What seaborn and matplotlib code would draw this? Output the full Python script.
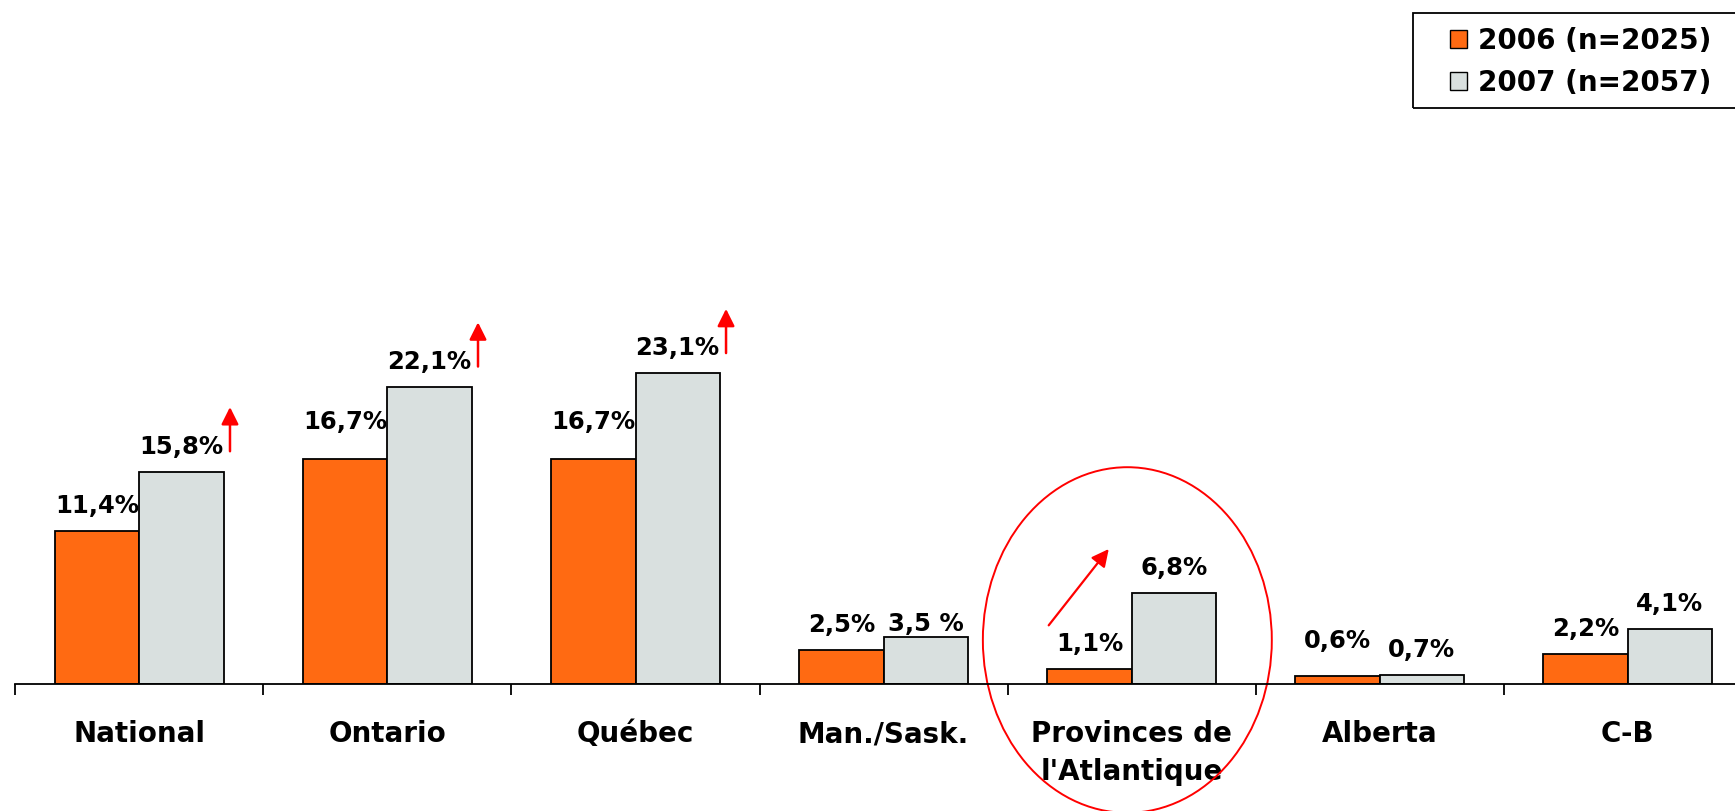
import seaborn as sns
import matplotlib.pyplot as plt
import matplotlib.patches as mpatches
from matplotlib.patches import Ellipse, Rectangle
import pandas as pd

# Values
regions = ["National", "Ontario", "Québec", "Man./Sask.", "Provinces de\nl'Atlantique", "Alberta", "C-B"]
years = ["2006 (n=2025)", "2007 (n=2057)"]
vals_2006 = [11.4, 16.7, 16.7, 2.5, 1.1, 0.6, 2.2]
vals_2007 = [15.8, 22.1, 23.1, 3.5, 6.8, 0.7, 4.1]
labels_2006 = ["11,4%", "16,7%", "16,7%", "2,5%", "1,1%", "0,6%", "2,2%"]
labels_2007 = ["15,8%", "22,1%", "23,1%", "3,5 %", "6,8%", "0,7%", "4,1%"]
# regions with a vertical "up" arrow next to the 2007 bar
up_arrows = ["National", "Ontario", "Québec"]

orange = "#FF6A12"
grey = "#D9E0DF"

df = pd.DataFrame({
    "region": regions * 2,
    "year": [years[0]] * len(regions) + [years[1]] * len(regions),
    "value": vals_2006 + vals_2007,
})

sns.set_style("white")
plt.rcParams["font.family"] = ["DejaVu Sans"]
plt.rcParams["font.weight"] = "bold"
plt.rcParams["text.color"] = "black"
plt.rcParams["xtick.color"] = "black"

fig = plt.figure(figsize=(17.35, 8.11), dpi=100)
ax = fig.add_axes([0.0089, 0.1566, 0.9911, 0.8434])

sns.barplot(data=df, x="region", y="value", hue="year", palette=[orange, grey],
            saturation=1, width=0.68, edgecolor="black", linewidth=1.3, ax=ax, legend=False)

# axes styling
for s in ["left", "top", "right"]:
    ax.spines[s].set_visible(False)
ax.spines["bottom"].set_color("black")
ax.spines["bottom"].set_linewidth(1.3)
ax.set_yticks([])
ax.set_xlabel("")
ax.set_ylabel("")
ax.set_xticks(range(len(regions)))
ax.set_xticklabels(regions, fontsize=20, fontweight="bold", color="black", linespacing=1.45)
ax.set_xticks([k - 0.5 for k in range(len(regions) + 1)], minor=True)
ax.tick_params(axis="x", which="major", length=0, pad=26)
ax.tick_params(axis="x", which="minor", length=8, width=1.3, direction="out", color="black", bottom=True)

# limits after the ticks (set_xticks widens the view)
ax.set_xlim(-0.5, 6.433)
ax.set_ylim(0, 50.86)

# value labels above bars (a few are nudged like in the original slide)
nudge = {(1, 0): 9, (2, 0): 9, (3, 1): -9, (5, 0): 7}
bar_w = 0.34
for j, (vals, labs) in enumerate([(vals_2006, labels_2006), (vals_2007, labels_2007)]):
    for i, (v, lab) in enumerate(zip(vals, labs)):
        x = i + (j - 0.5) * bar_w
        ax.annotate(lab, xy=(x, v), xytext=(0, 18 + nudge.get((i, j), 0)),
                    textcoords="offset points", ha="center", va="center",
                    fontsize=17.5, fontweight="bold", color="black", annotation_clip=False)

# red arrows
for r in up_arrows:
    i = regions.index(r)
    v = vals_2007[i]
    ax.annotate("", xy=(i + 0.365, v + 5.0), xytext=(i + 0.365, v + 1.3),
                arrowprops=dict(arrowstyle="-|>", color="red", lw=1.8, mutation_scale=26))
ia = regions.index("Provinces de\nl'Atlantique")
ax.annotate("", xy=(ia - 0.085, vals_2007[ia] + 3.4), xytext=(ia - 0.341, vals_2006[ia] + 3.1),
            arrowprops=dict(arrowstyle="-|>", color="red", lw=1.6, mutation_scale=26))
ax.add_patch(Ellipse((ia - 0.017, 3.27), 1.165, 25.7, fill=False, ec="red", lw=1.4, clip_on=False))

# legend: frameless entries plus a box that runs off the right edge, like the slide
handles = [mpatches.Patch(facecolor=orange, edgecolor="black", lw=1.0),
           mpatches.Patch(facecolor=grey, edgecolor="black", lw=1.0)]
leg = fig.legend(handles, years, loc="center left", bbox_to_anchor=(1450 / 1735, 1 - 62 / 811),
                 bbox_transform=fig.transFigure, borderaxespad=0, borderpad=0, frameon=False,
                 prop={"size": 20, "weight": "bold"},
                 handlelength=0.6, handleheight=0.6, handletextpad=0.4, labelspacing=0.5)
fig.patches.append(Rectangle((1413 / 1735, 1 - 108 / 811), 0.3, 95 / 811, transform=fig.transFigure,
                             fill=False, ec="black", lw=1.3))

fig.savefig("out.png", dpi=100, facecolor="white")
